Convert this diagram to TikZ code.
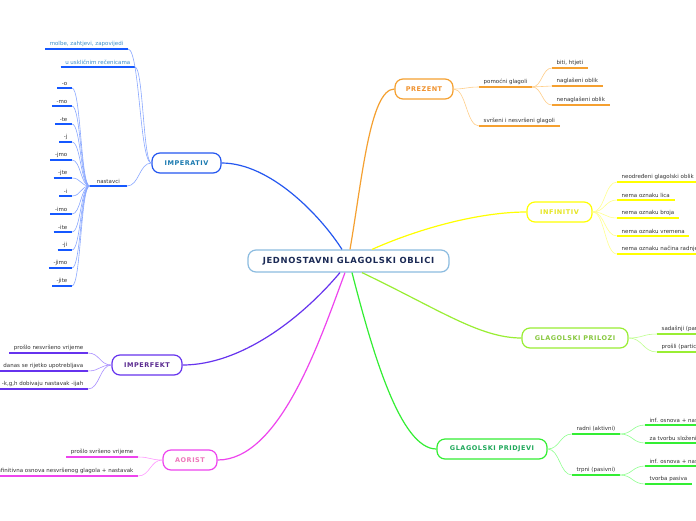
\documentclass[tikz,border=0pt]{standalone}
\usepackage{fontspec}
\setmainfont{DejaVu Sans}
\newfontfamily\boxfont[LetterSpace=8]{DejaVu Sans Bold}
\usetikzlibrary{calc}
\definecolor{cbox}{HTML}{8CBCE0}
\definecolor{ctext}{HTML}{1B2A55}
\definecolor{impB}{HTML}{2457F0}
\definecolor{impT}{HTML}{1A7AB0}
\definecolor{impL}{HTML}{8AA8FF}
\definecolor{impU}{HTML}{1558FF}
\definecolor{impS}{HTML}{3A8FCC}
\definecolor{prB}{HTML}{F5A030}
\definecolor{prT}{HTML}{F0922E}
\definecolor{prL}{HTML}{FFCF8A}
\definecolor{inB}{HTML}{FFFF00}
\definecolor{inT}{HTML}{E6E620}
\definecolor{inL}{HTML}{FFFF90}
\definecolor{plB}{HTML}{99EE33}
\definecolor{plT}{HTML}{88C840}
\definecolor{plL}{HTML}{C0FF90}
\definecolor{pdB}{HTML}{33EE33}
\definecolor{pdT}{HTML}{1FA85A}
\definecolor{pdL}{HTML}{90FF90}
\definecolor{ifB}{HTML}{6633EE}
\definecolor{ifT}{HTML}{5A2A90}
\definecolor{ifL}{HTML}{AA90FF}
\definecolor{aoB}{HTML}{EE44EE}
\definecolor{aoT}{HTML}{EE77BB}
\definecolor{aoL}{HTML}{FF99FF}
\definecolor{subgray}{HTML}{333333}
\begin{document}
\begin{tikzpicture}[x=1pt,y=-1pt,
  mainbox/.style={draw, fill=white, rounded corners=8pt, line width=1.2pt,
    minimum height=20pt, inner sep=0pt, font=\boxfont\fontsize{6.5}{7}\selectfont},
  subL/.style={anchor=south east, inner xsep=4.5pt, inner ysep=2.6pt,
    font=\fontsize{5.5}{6.5}\selectfont, text=subgray},
  subR/.style={anchor=south west, inner xsep=4.5pt, inner ysep=2.6pt,
    font=\fontsize{5.5}{6.5}\selectfont, text=subgray},
  ulined/.style={append after command={(\tikzlastnode.south west) edge[line width=1.4pt, draw=#1] (\tikzlastnode.south east)}},
  conn/.style={draw=#1, line width=0.6pt},
  mainconn/.style={draw=#1, line width=1.2pt},
  mm/.style={to path={let \p1=(\tikztostart), \p2=(\tikztotarget) in
    .. controls ({0.5*\x1+0.5*\x2},\y1) and ({0.5*\x1+0.5*\x2},\y2) .. (\tikztotarget)}}
]
\useasboundingbox (0,0) rectangle (696,520);
\fill[white] (0,0) rectangle (696,520);

% main nodes
\node[mainbox, draw=cbox, text=ctext, minimum width=201pt, minimum height=22pt,
  font=\boxfont\fontsize{8.4}{9}\selectfont] (root) at (348.5,261) {JEDNOSTAVNI GLAGOLSKI OBLICI};
\node[mainbox, draw=impB, text=impT, minimum width=69pt] (imp) at (186.5,163) {IMPERATIV};
\node[mainbox, draw=prB, text=prT, minimum width=58pt] (prez) at (424,89) {PREZENT};
\node[mainbox, draw=inB, text=inT, minimum width=65pt] (inf) at (559.5,212) {INFINITIV};
\node[mainbox, draw=plB, text=plT, minimum width=106pt] (pril) at (575,338) {GLAGOLSKI PRILOZI};
\node[mainbox, draw=pdB, text=pdT, minimum width=110pt] (prid) at (492,449) {GLAGOLSKI PRIDJEVI};
\node[mainbox, draw=ifB, text=ifT, minimum width=70pt] (impf) at (147,365) {IMPERFEKT};
\node[mainbox, draw=aoB, text=aoT, minimum width=54pt] (aor) at (190,460) {AORIST};

% main connectors
\draw[mainconn=impB] ([xshift=-6.5pt]root.north) .. controls (320,215) and (270,163) .. (imp.east);
\draw[mainconn=prB] ([xshift=1.5pt]root.north) .. controls (362,180) and (370,89) .. (prez.west);
\draw[mainconn=inB] ([xshift=23.5pt]root.north) .. controls (420,228) and (480,212) .. (inf.west);
\draw[mainconn=ifB] ([xshift=-8.5pt]root.south) .. controls (300,320) and (240,365) .. (impf.east);
\draw[mainconn=aoB] ([xshift=-3.5pt]root.south) .. controls (320,340) and (280,460) .. (aor.east);
\draw[mainconn=pdB] ([xshift=3.5pt]root.south) .. controls (372,350) and (400,449) .. (prid.west);
\draw[mainconn=plB] ([xshift=13.5pt]root.south) .. controls (440,310) and (480,338) .. (pril.west);

% IMPERATIV subtree
\node[subL, ulined=impU, text=impS] (molbe) at (128,49) {molbe, zahtjevi, zapovijedi};
\node[subL, ulined=impU, text=impS] (uskl) at (135,67) {u uskličnim rečenicama};
\node[subL, ulined=impU, minimum width=37pt] (nast) at (127,186) {nastavci};
\draw[conn=impL] (imp.west) to[mm] (molbe.south east);
\draw[conn=impL] (imp.west) to[mm] (uskl.south east);
\draw[conn=impL] (imp.west) to[mm] (nast.south east);
\foreach \t [count=\k] in {-o,-mo,-te,-j,-jmo,-jte,-i,-imo,-ite,-ji,-jimo,-jite} {
  \node[subL, ulined=impU] (na\k) at (72,{70+18*\k}) {\t};
  \draw[conn=impL] (nast.south west) to[mm] (na\k.south east);
}

% IMPERFEKT subtree
\node[subL, ulined=ifB] (if1) at (88,353) {prošlo nesvršeno vrijeme};
\node[subL, ulined=ifB] (if2) at (88,371) {danas se rijetko upotrebljava};
\node[subL, ulined=ifB] (if3) at (88,389) {-k,g,h dobivaju nastavak -ijah};
\foreach \nm in {if1,if2,if3} \draw[conn=ifL] (impf.west) to[mm] (\nm.south east);

% AORIST subtree
\node[subL, ulined=aoB] (ao1) at (138,457) {prošlo svršeno vrijeme};
\node[subL, ulined=aoB] (ao2) at (138,476) {infinitivna osnova nesvršenog glagola + nastavak};
\foreach \nm in {ao1,ao2} \draw[conn=aoL] (aor.west) to[mm] (\nm.south east);

% PREZENT subtree
\node[subR, ulined=prB] (pom) at (479,87) {pomoćni glagoli};
\node[subR, ulined=prB] (svr) at (479,126) {svršeni i nesvršeni glagoli};
\node[subR, ulined=prB] (biti) at (552,68) {biti, htjeti};
\node[subR, ulined=prB] (nagl) at (552,86) {naglašeni oblik};
\node[subR, ulined=prB] (nenagl) at (552,105) {nenaglašeni oblik};
\draw[conn=prL] (prez.east) to[mm] (pom.south west);
\draw[conn=prL] (prez.east) to[mm] (svr.south west);
\foreach \nm in {biti,nagl,nenagl} \draw[conn=prL] (pom.south east) to[mm] (\nm.south west);

% INFINITIV subtree
\node[subR, ulined=inB] (in1) at (617,182) {neodređeni glagolski oblik};
\node[subR, ulined=inB] (in2) at (617,200) {nema oznaku lica};
\node[subR, ulined=inB] (in3) at (617,218) {nema oznaku broja};
\node[subR, ulined=inB] (in4) at (617,236) {nema oznaku vremena};
\node[subR, ulined=inB] (in5) at (617,254) {nema oznaku načina radnje};
\foreach \nm in {in1,in2,in3,in4,in5} \draw[conn=inL] (inf.east) to[mm] (\nm.south west);

% GLAGOLSKI PRILOZI subtree
\node[subR, ulined=plB] (pl1) at (657,334) {sadašnji (particip)};
\node[subR, ulined=plB] (pl2) at (657,352) {prošli (particip)};
\foreach \nm in {pl1,pl2} \draw[conn=plL] (pril.east) to[mm] (\nm.south west);

% GLAGOLSKI PRIDJEVI subtree
\node[subR, ulined=pdB] (radni) at (572,434) {radni (aktivni)};
\node[subR, ulined=pdB] (trpni) at (572,475) {trpni (pasivni)};
\node[subR, ulined=pdB] (r1) at (645,425) {inf. osnova + nastavak};
\node[subR, ulined=pdB] (r2) at (645,443) {za tvorbu složenih};
\node[subR, ulined=pdB] (t1) at (645,466) {inf. osnova + nastavak};
\node[subR, ulined=pdB] (t2) at (645,484) {tvorba pasiva};
\foreach \nm in {radni,trpni} \draw[conn=pdL] (prid.east) to[mm] (\nm.south west);
\foreach \nm in {r1,r2} \draw[conn=pdL] (radni.south east) to[mm] (\nm.south west);
\foreach \nm in {t1,t2} \draw[conn=pdL] (trpni.south east) to[mm] (\nm.south west);
\end{tikzpicture}
\end{document}
